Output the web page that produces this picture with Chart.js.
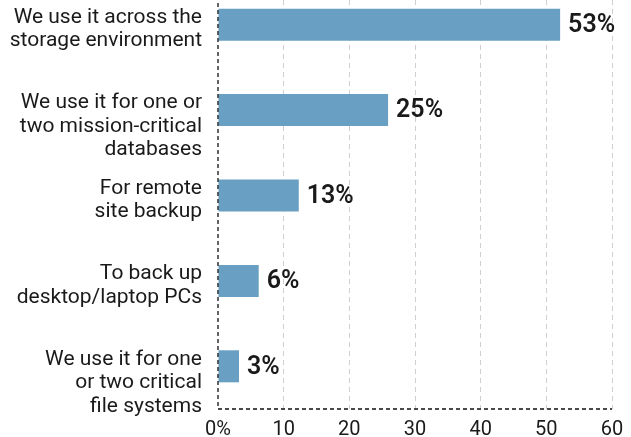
<!DOCTYPE html>
<html>
<head>
<meta charset="utf-8">
<script src="https://cdn.jsdelivr.net/npm/chart.js@4"></script>
<style>
  html, body { margin: 0; padding: 0; background: #fff; overflow: hidden; }
  /* plot area starts a little above the top edge, as in the original */
  #wrap { width: 631px; height: 455px; margin-top: -18px; }
</style>
</head>
<body>
<div id="wrap"><canvas id="bar-chart"></canvas></div>
<script>
// answers (multi-line labels as in the original)
const categories = [
  ["We use it across the", "storage environment"],
  ["We use it for one or", "two mission-critical", "databases"],
  ["For remote", "site backup"],
  ["To back up", "desktop/laptop PCs"],
  ["We use it for one", "or two critical", "file systems"]
];
// bar lengths as drawn
const shares = [52.1, 25.9, 12.3, 6.2, 3.2];
// printed value labels
const shareLabels = ["53%", "25%", "13%", "6%", "3%"];
const xTicks = [0, 10, 20, 30, 40, 50, 60];

const valueLabels = {
  id: 'valueLabels',
  afterDatasetsDraw(chart) {
    const ctx = chart.ctx;
    const meta = chart.getDatasetMeta(0);
    ctx.save();
    ctx.font = '600 25px Roboto';
    ctx.fillStyle = '#1a1a1a';
    ctx.textAlign = 'left';
    ctx.textBaseline = 'middle';
    meta.data.forEach((bar, i) => {
      ctx.fillText(shareLabels[i], bar.x + 8, bar.y + 1);
    });
    ctx.restore();
  }
};

// category labels: first line sits just above the bar centre, the rest run downwards
const categoryLabels = {
  id: 'categoryLabels',
  afterDraw(chart) {
    const { ctx, chartArea } = chart;
    const yScale = chart.scales.y;
    ctx.save();
    ctx.font = '21px Roboto';
    ctx.fillStyle = '#1a1a1a';
    ctx.textAlign = 'right';
    ctx.textBaseline = 'middle';
    chart.data.labels.forEach((lines, i) => {
      const y0 = yScale.getPixelForValue(i) - 7;
      lines.forEach((line, k) => {
        ctx.fillText(line, chartArea.left - 16, y0 + k * 23.5);
      });
    });
    ctx.restore();
  }
};

// dashed black axis lines on the left and bottom
const dashedAxes = {
  id: 'dashedAxes',
  afterDraw(chart) {
    const { ctx, chartArea } = chart;
    ctx.save();
    ctx.strokeStyle = '#111';
    ctx.lineWidth = 1.3;
    ctx.setLineDash([4, 3]);
    ctx.beginPath();
    ctx.moveTo(chartArea.left, chartArea.top);
    ctx.lineTo(chartArea.left, chartArea.bottom);
    ctx.lineTo(chartArea.right, chartArea.bottom);
    ctx.stroke();
    ctx.restore();
  }
};

new Chart(document.getElementById("bar-chart"), {
  type: 'bar',
  data: {
    labels: categories,
    datasets: [
      {
        data: shares,
        backgroundColor: "#689fc2",
        borderWidth: 0,
        barPercentage: 0.375,
        categoryPercentage: 1
      }
    ]
  },
  options: {
    indexAxis: 'y',
    responsive: true,
    maintainAspectRatio: false,
    animation: false,
    layout: { padding: { top: 0, right: 19, left: 0, bottom: 0 } },
    plugins: {
      legend: { display: false },
      tooltip: { enabled: false }
    },
    scales: {
      x: {
        min: 0,
        max: 60,
        afterBuildTicks(scale) {
          scale.ticks = xTicks.map(v => ({ value: v }));
        },
        afterFit(scale) {
          scale.height = 28;
          scale.paddingLeft = 0;
          scale.paddingRight = 0;
        },
        grid: {
          color: (c) => c.tick && c.tick.value === 0 ? 'rgba(0,0,0,0)' : '#cfcfcf',
          lineWidth: 1,
          drawTicks: false
        },
        border: { display: false, dash: [5, 4] },
        ticks: {
          padding: 9,
          color: '#1a1a1a',
          font: { family: 'Roboto', size: 20 },
          callback: (v) => v === 0 ? '0%' : String(v)
        }
      },
      y: {
        afterFit(scale) {
          scale.width = 218;
          scale.paddingTop = 0;
          scale.paddingBottom = 0;
        },
        grid: { display: false, drawTicks: false },
        border: { display: false },
        ticks: { display: false }
      }
    }
  },
  plugins: [valueLabels, categoryLabels, dashedAxes]
});
</script>
</body>
</html>
